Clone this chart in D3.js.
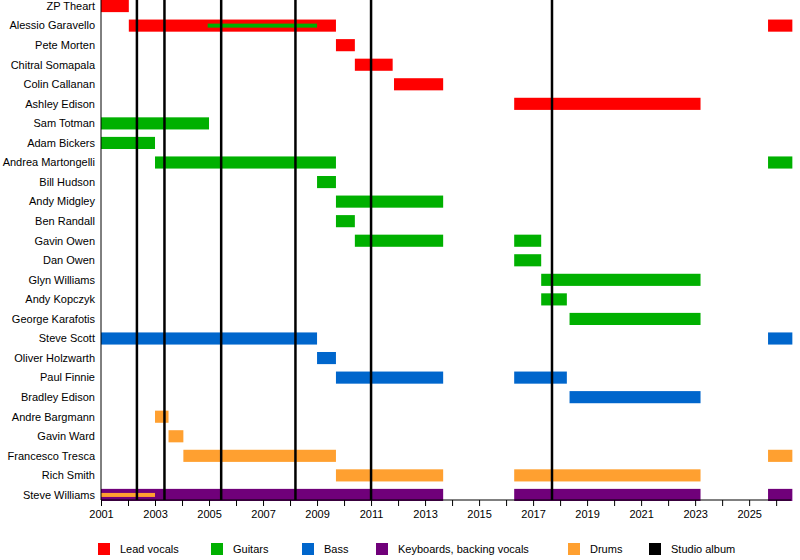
<!DOCTYPE html><html><head><script src="https://cdn.jsdelivr.net/npm/d3@7"></script>
<style>body{margin:0;background:#fff}text{font-family:"Liberation Sans",Arial,sans-serif;font-size:11px}</style></head><body><svg width="800" height="560"></svg><script>
const members=["ZP Theart","Alessio Garavello","Pete Morten","Chitral Somapala","Colin Callanan","Ashley Edison","Sam Totman","Adam Bickers","Andrea Martongelli","Bill Hudson","Andy Midgley","Ben Randall","Gavin Owen","Dan Owen","Glyn Williams","Andy Kopczyk","George Karafotis","Steve Scott","Oliver Holzwarth","Paul Finnie","Bradley Edison","Andre Bargmann","Gavin Ward","Francesco Tresca","Rich Smith","Steve Williams"];
const roles=["Lead vocals","Guitars","Bass","Keyboards, backing vocals","Drums","Studio album"];
const roleColors=["#ff0000","#00b000","#0066cc","#70007a","#ffa030","#000000"];
// [member, role, start, end]
const bars=[
["ZP Theart",0,2001,2002.03],
["Alessio Garavello",0,2002.03,2009.7],["Alessio Garavello",0,2025.7,2026.6],
["Pete Morten",0,2009.7,2010.4],["Chitral Somapala",0,2010.4,2011.8],["Colin Callanan",0,2011.85,2013.67],
["Ashley Edison",0,2016.3,2023.2],
["Sam Totman",1,2001,2005],["Adam Bickers",1,2001,2003],
["Andrea Martongelli",1,2003,2009.7],["Andrea Martongelli",1,2025.7,2026.6],
["Bill Hudson",1,2009,2009.7],["Andy Midgley",1,2009.7,2013.67],["Ben Randall",1,2009.7,2010.4],
["Gavin Owen",1,2010.4,2013.67],["Gavin Owen",1,2016.3,2017.3],["Dan Owen",1,2016.3,2017.3],
["Glyn Williams",1,2017.3,2023.2],["Andy Kopczyk",1,2017.3,2018.25],["George Karafotis",1,2018.35,2023.2],
["Steve Scott",2,2001,2009],["Steve Scott",2,2025.7,2026.6],["Oliver Holzwarth",2,2009,2009.7],
["Paul Finnie",2,2009.7,2013.67],["Paul Finnie",2,2016.3,2018.25],["Bradley Edison",2,2018.35,2023.2],
["Andre Bargmann",4,2003,2003.5],["Gavin Ward",4,2003.5,2004.05],
["Francesco Tresca",4,2004.05,2009.7],["Francesco Tresca",4,2025.7,2026.6],
["Rich Smith",4,2009.7,2013.67],["Rich Smith",4,2016.3,2023.2],
["Steve Williams",3,2001,2013.67],["Steve Williams",3,2016.3,2023.2],["Steve Williams",3,2025.7,2026.6]];
const innerBars=[["Alessio Garavello",1,2004.95,2009],["Steve Williams",4,2001,2003]];
const albums=[2002.33,2003.35,2005.45,2008.2,2011.0,2017.7];

const svg=d3.select("svg");
const L=101,R=791,T=0,B=500;
const x=d3.scaleLinear().domain([2001,2026.55]).range([L,R]);
const y=d3.scaleBand().domain(members).range([0,501]).paddingInner(0.38).paddingOuter(0);
svg.append("g").selectAll("rect").data(bars).join("rect")
 .attr("x",d=>x(d[2])).attr("width",d=>x(d[3])-x(d[2]))
 .attr("y",d=>y(d[0])).attr("height",y.bandwidth()).attr("fill",d=>roleColors[d[1]]);
svg.append("g").selectAll("rect").data(innerBars).join("rect")
 .attr("x",d=>x(d[2])).attr("width",d=>x(d[3])-x(d[2]))
 .attr("y",d=>y(d[0])+y.bandwidth()/2-2).attr("height",4).attr("fill",d=>roleColors[d[1]]);
svg.append("g").selectAll("line").data(albums).join("line")
 .attr("x1",d=>x(d)).attr("x2",d=>x(d)).attr("y1",T).attr("y2",B)
 .attr("stroke","#000").attr("stroke-width",2.5);
const xa=svg.append("g").attr("transform",`translate(0,${B})`)
 .call(d3.axisBottom(x).tickValues(d3.range(2001,2027)).tickFormat(d=>d%2?d:"").tickSize(6).tickPadding(4));
xa.select(".domain").attr("d",`M${L},0H${R}`);
xa.selectAll("text").attr("font-size",11).attr("font-family","Liberation Sans, Arial").attr("fill","#000");
svg.append("line").attr("x1",L).attr("x2",L).attr("y1",T).attr("y2",B).attr("stroke","#000");
svg.append("g").selectAll("text").data(members).join("text")
 .attr("x",95).attr("y",d=>y(d)+y.bandwidth()/2).attr("dy","0.35em").attr("text-anchor","end").text(d=>d);
const lx=[98,211,302,376,568,649];
const lg=svg.append("g").selectAll("g").data(roles).join("g").attr("transform",(d,i)=>`translate(${lx[i]},543)`);
lg.append("rect").attr("width",12).attr("height",12).attr("fill",(d,i)=>roleColors[i]);
lg.append("text").attr("x",22).attr("y",6).attr("dy","0.35em").text(d=>d);
</script></body></html>
